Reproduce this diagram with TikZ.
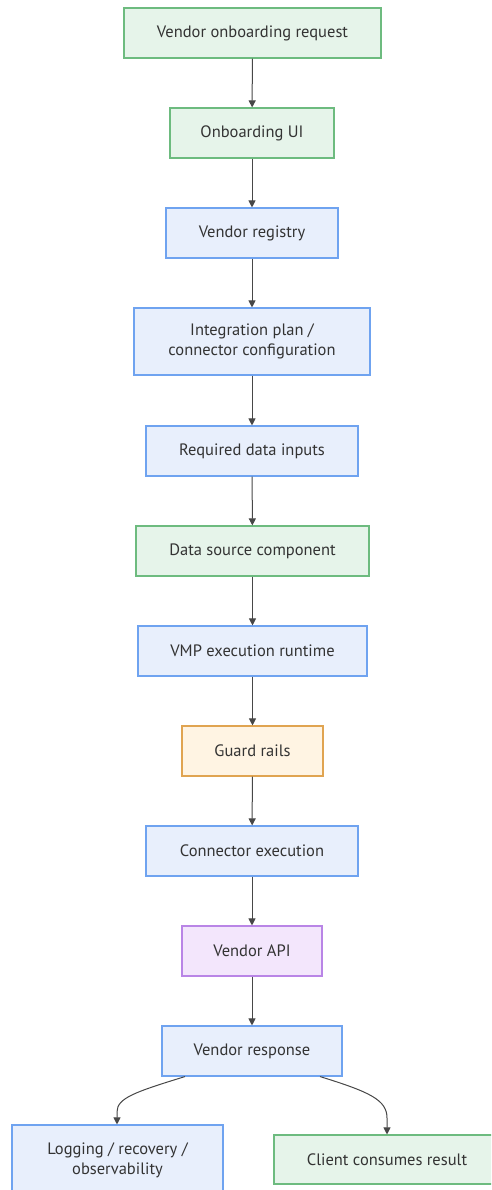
\documentclass[tikz,border=0pt]{standalone}
\usepackage{fontspec}
\setmainfont{PT Sans}
\usetikzlibrary{arrows.meta}
\definecolor{txt}{HTML}{333333}
\definecolor{gfill}{HTML}{E6F4EA}
\definecolor{gline}{HTML}{6DBB7F}
\definecolor{bfill}{HTML}{E8EFFC}
\definecolor{bline}{HTML}{6FA3F0}
\definecolor{ofill}{HTML}{FFF4E3}
\definecolor{oline}{HTML}{E0A451}
\definecolor{pfill}{HTML}{F3E6FC}
\definecolor{pline}{HTML}{B985E6}
\tikzset{
  box/.style={draw, line width=1.1pt, inner sep=0pt, align=center,
    font=\fontsize{16.5}{20}\selectfont, text=txt},
  gbox/.style={box, fill=gfill, draw=gline},
  bbox/.style={box, fill=bfill, draw=bline},
  obox/.style={box, fill=ofill, draw=oline},
  pbox/.style={box, fill=pfill, draw=pline},
  flow/.style={draw=txt!90, line width=1pt, -{Triangle[length=7pt,width=7pt]}},
}
\begin{document}
\begin{tikzpicture}[x=1pt,y=-1pt]
\useasboundingbox (0,0) rectangle (491,1190);
\begin{scope}
\clip (0,0) rectangle (491,1190);
\node[gbox, minimum width=257pt, minimum height=50pt] (req) at (252.5,33) {Vendor onboarding request};
\node[gbox, minimum width=164pt, minimum height=50pt] (ui) at (252,133) {Onboarding UI};
\node[bbox, minimum width=172pt, minimum height=50pt] (reg) at (252,233) {Vendor registry};
\node[bbox, minimum width=236pt, minimum height=67pt] (plan) at (252,341.5) {Integration plan /\\connector configuration};
\node[bbox, minimum width=212pt, minimum height=50pt] (inp) at (252,451) {Required data inputs};
\node[gbox, minimum width=233pt, minimum height=50pt] (src) at (252.5,551) {Data source component};
\node[bbox, minimum width=229pt, minimum height=50pt] (vmp) at (252.5,651) {VMP execution runtime};
\node[obox, minimum width=141pt, minimum height=50pt] (guard) at (252.5,751) {Guard rails};
\node[bbox, minimum width=212pt, minimum height=50pt] (conn) at (252,851) {Connector execution};
\node[pbox, minimum width=140pt, minimum height=50pt] (api) at (252,951) {Vendor API};
\node[bbox, minimum width=180pt, minimum height=50pt] (resp) at (252,1051) {Vendor response};
\node[bbox, minimum width=211pt, minimum height=70pt] (log) at (117.5,1160) {Logging / recovery /\\observability};
\node[gbox, minimum width=226pt, minimum height=49pt] (client) at (387,1159.5) {Client consumes result};

\draw[flow] (req) -- (ui);
\draw[flow] (ui) -- (reg);
\draw[flow] (reg) -- (plan);
\draw[flow] (plan) -- (inp);
\draw[flow] (inp) -- (src);
\draw[flow] (src) -- (vmp);
\draw[flow] (vmp) -- (guard);
\draw[flow] (guard) -- (conn);
\draw[flow] (conn) -- (api);
\draw[flow] (api) -- (resp);
\coordinate (rl) at ([xshift=-67pt]resp.south);
\coordinate (rr) at ([xshift=68pt]resp.south);
\draw[flow] (rl) .. controls (135,1092) and (117,1098) .. (117,1112) -- (log.north -| 117,0);
\draw[flow] (rr) .. controls (370,1092) and (387,1100) .. (387,1118) -- (client.north);
\end{scope}
\end{tikzpicture}
\end{document}
